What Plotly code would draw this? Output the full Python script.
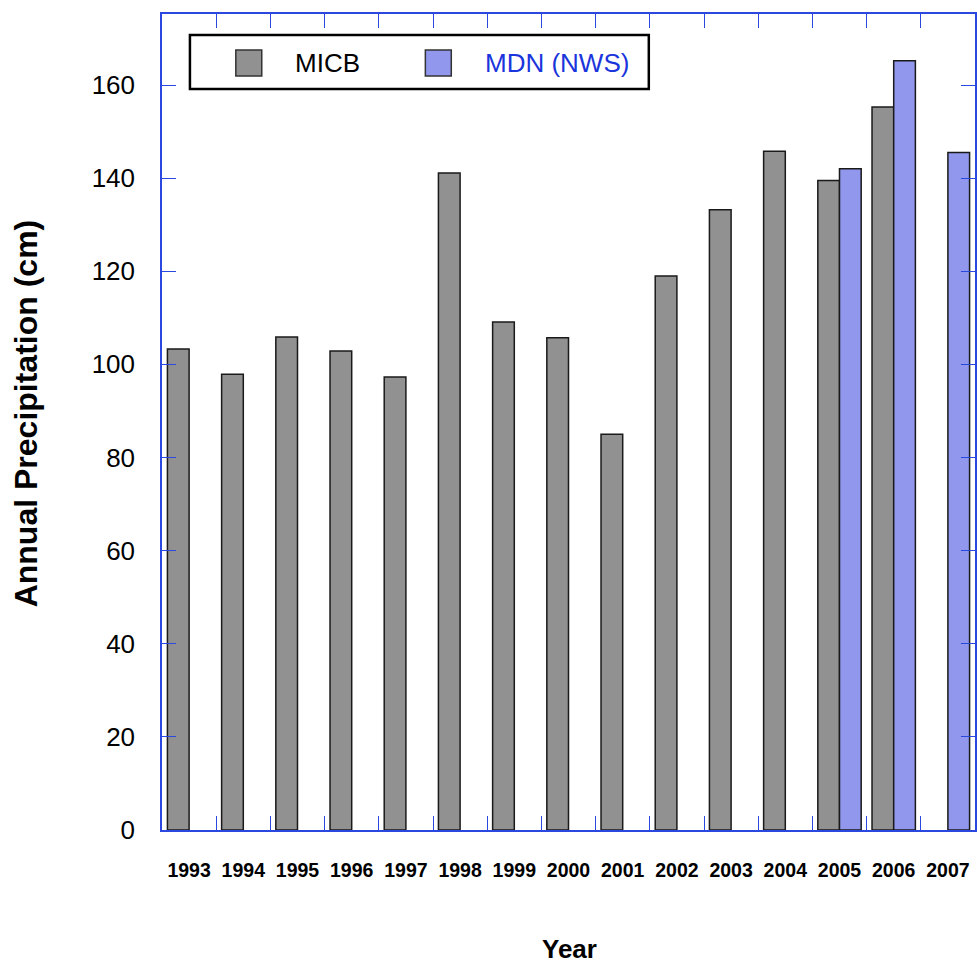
import plotly.graph_objects as go

years = ["1993", "1994", "1995", "1996", "1997", "1998", "1999", "2000",
         "2001", "2002", "2003", "2004", "2005", "2006", "2007"]
micb = [103.3, 97.9, 105.9, 102.9, 97.3, 141.1, 109.1, 105.7,
        85.0, 119.0, 133.2, 145.8, 139.5, 155.3, None]
mdn = [None, None, None, None, None, None, None, None,
       None, None, None, None, 142.0, 165.2, 145.5]
y_ticks = [0, 20, 40, 60, 80, 100, 120, 140, 160]

W, H = 977, 965
L, R, T, B = 162, 0, 14, 135
PW, PH = W - L - R, H - T - B
AXIS = "#2a48e0"
BLUE_TXT = "#1a35dc"
FONT = "Arial, Liberation Sans, sans-serif"


def px(x):
    return (x - L) / PW


def py(y):
    return (H - B - y) / PH


fig = go.Figure()
fig.add_bar(x=years, y=micb, name="MICB", marker=dict(color="#919191", line=dict(color="#1a1a1a", width=1.5)))
fig.add_bar(x=years, y=mdn, name="MDN (NWS)", marker=dict(color="#9097ec", line=dict(color="#1a1a1a", width=1.5)))

fig.update_layout(
    width=W, height=H,
    margin=dict(l=L, r=R, t=T, b=B),
    paper_bgcolor="white", plot_bgcolor="white",
    barmode="group", bargap=0.2, bargroupgap=0,
    showlegend=False,
    font=dict(family=FONT, color="black"),
)
fig.update_xaxes(
    type="category", range=[-0.5, 14.5],
    tickson="boundaries", ticks="inside", ticklen=14, tickwidth=1, tickcolor=AXIS,
    showline=True, linecolor=AXIS, linewidth=1.5, mirror="ticks",
    showgrid=False, zeroline=False,
    tickfont=dict(family=FONT, size=19.5, color="black", weight="bold"),
    ticklabelstandoff=22,
)
fig.update_yaxes(
    range=[0, 175.25], tickvals=y_ticks,
    ticks="inside", ticklen=14, tickwidth=1, tickcolor=AXIS,
    showline=True, linecolor=AXIS, linewidth=1.5, mirror="ticks",
    showgrid=False, zeroline=False,
    tickfont=dict(family=FONT, size=26, color="black"),
    ticklabelstandoff=20,
)

# axis titles
fig.add_annotation(xref="paper", yref="paper", x=px(26), y=py(413), text="<b>Annual Precipitation (cm)</b>",
                   textangle=-90, showarrow=False, xanchor="center", yanchor="middle",
                   font=dict(family=FONT, size=32, color="black"))
fig.add_annotation(xref="paper", yref="paper", x=px(571), y=py(949), text="<b>Year</b>",
                   showarrow=False, xanchor="center", yanchor="middle",
                   font=dict(family=FONT, size=26, color="black"))

# legend (custom, to match large swatches)
fig.add_shape(type="rect", xref="paper", yref="paper", x0=px(190), x1=px(650), y0=py(89), y1=py(35),
              line=dict(color="black", width=2.5), fillcolor="white", layer="above")
fig.add_shape(type="rect", xref="paper", yref="paper", x0=px(236), x1=px(262), y0=py(76), y1=py(50),
              line=dict(color="#333", width=1.5), fillcolor="#919191", layer="above")
fig.add_shape(type="rect", xref="paper", yref="paper", x0=px(426), x1=px(452), y0=py(76), y1=py(50),
              line=dict(color="#333", width=1.5), fillcolor="#9097ec", layer="above")
fig.add_annotation(xref="paper", yref="paper", x=px(293), y=py(63), text="MICB", showarrow=False,
                   xanchor="left", yanchor="middle", font=dict(family=FONT, size=26, color="black"))
fig.add_annotation(xref="paper", yref="paper", x=px(484), y=py(63), text="MDN (NWS)", showarrow=False,
                   xanchor="left", yanchor="middle", font=dict(family=FONT, size=26, color=BLUE_TXT))

fig.write_html("out.html")
